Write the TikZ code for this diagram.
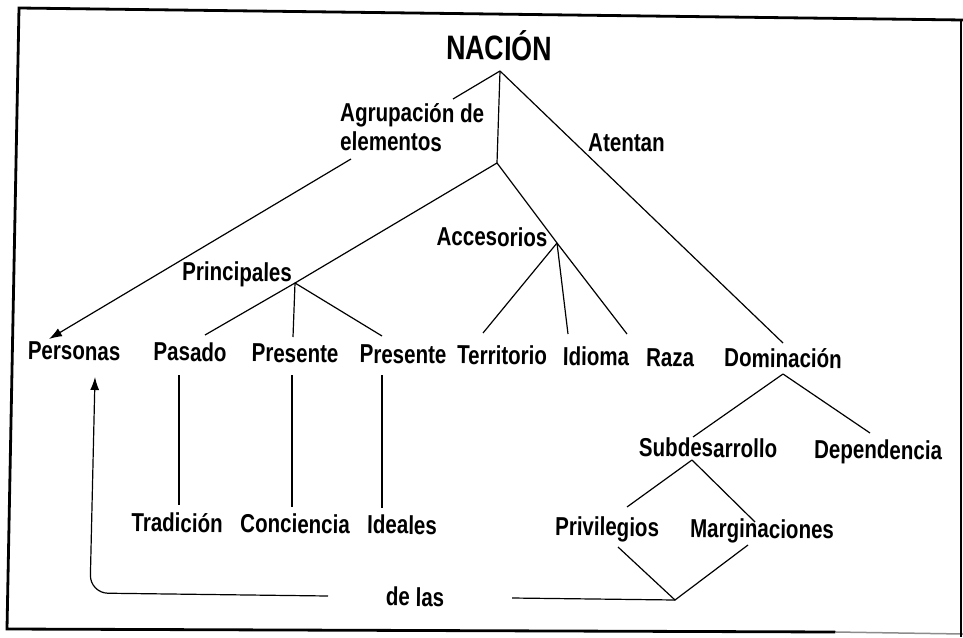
\documentclass[tikz,border=0pt]{standalone}
\usepackage{fontspec}
\setmainfont{Liberation Sans}[FakeStretch=0.79]
\usetikzlibrary{arrows.meta}
\begin{document}
\begin{tikzpicture}[x=1pt,y=-1pt,
  lbl/.style={font=\bfseries\fontsize{26}{30}\selectfont, inner sep=0pt, rotate=-0.7, anchor=base},
  title/.style={lbl, font=\bfseries\fontsize{34}{38}\selectfont},
  conn/.style={line width=1.2pt, black},
  arr/.style={conn, -{Latex[length=13pt,width=9pt,fill=black]}},
  framestyle/.style={line width=2.8pt, black, line cap=round}]
\useasboundingbox (0,0) rectangle (963,637);
\fill[white] (0,0) rectangle (963,637);

% frame
\draw[framestyle] (963,20) -- (19,8) -- (7,629) -- (835,632);
\draw[line width=1.5pt, black!45] (835,632) -- (963,634);
\draw[line width=2.2pt, black] (961,20) -- (961,637);

% texts
\node[title] (nacion) at (499,60) {NACIÓN};
\node[lbl, anchor=base west] (agr1) at (340,121) {Agrupación de};
\node[lbl, anchor=base west] (agr2) at (340,150) {elementos};
\node[lbl, anchor=base west] (atentan) at (588,151) {Atentan};
\node[lbl] (acces) at (492,246) {Accesorios};
\node[lbl] (princ) at (237,281) {Principales};

\node[lbl] (personas) at (74,360) {Personas};
\node[lbl] (pasado) at (190,361) {Pasado};
\node[lbl] (pres1) at (295,362.3) {Presente};
\node[lbl] (pres2) at (403,363.5) {Presente};
\node[lbl] (terr) at (502,364.5) {Territorio};
\node[lbl] (idioma) at (596,365.5) {Idioma};
\node[lbl] (raza) at (670,366.3) {Raza};
\node[lbl] (domin) at (783,367.5) {Dominación};

\node[lbl] (trad) at (177,532) {Tradición};
\node[lbl] (conc) at (295,533) {Conciencia};
\node[lbl] (ideal) at (402,534) {Ideales};

\node[lbl] (subd) at (708,457) {Subdesarrollo};
\node[lbl] (depen) at (878,459) {Dependencia};
\node[lbl] (priv) at (607,536) {Privilegios};
\node[lbl] (marg) at (762,538) {Marginaciones};
\node[lbl] (delas) at (415,606) {de las};

% junctions and line ends
\coordinate (apex) at (500,71);
\coordinate (agrtop) at (453,99);
\coordinate (agrbot) at (351,159);
\coordinate (persTip) at (49,339);
\coordinate (j1) at (497,163);
\coordinate (jp) at (295,283);
\coordinate (ja) at (557,243);
\coordinate (domTop) at (783,343);
\coordinate (pasTop) at (205,335);
\coordinate (p1Top) at (293,337);
\coordinate (p2Top) at (382,336);
\coordinate (terTop) at (483,333);
\coordinate (idTop) at (568,334);
\coordinate (idTopR) at (627,334);
\coordinate (pasBot) at (179,375);
\coordinate (tradTop) at (179,505);
\coordinate (p1Bot) at (292,375);
\coordinate (concTop) at (292,507);
\coordinate (p2Bot) at (382,375);
\coordinate (idealTop) at (382,508);
\coordinate (jd) at (783,374);
\coordinate (subTop) at (693,437);
\coordinate (depTop) at (870,433);
\coordinate (js) at (692,460);
\coordinate (privTop) at (627,507);
\coordinate (margTop) at (755,522);
\coordinate (privBot) at (618,547);
\coordinate (margBot) at (748,545);
\coordinate (jb) at (675,600);
\coordinate (delasR) at (512,598);
\coordinate (delasL) at (328,596);
\coordinate (corner) at (90,593);
\coordinate (persBot) at (95,377);

% connectors
\draw[conn] (apex) -- (agrtop);
\draw[arr] (agrbot) -- (persTip);
\draw[conn] (apex) -- (j1);
\draw[conn] (j1) -- (jp);
\draw[conn] (j1) -- (ja);
\draw[conn] (apex) -- (domTop);
\draw[conn] (jp) -- (pasTop);
\draw[conn] (jp) -- (p1Top);
\draw[conn] (jp) -- (p2Top);
\draw[conn] (ja) -- (terTop);
\draw[conn] (ja) -- (idTop);
\draw[conn] (ja) -- (idTopR);
\draw[conn] (pasBot) -- (tradTop);
\draw[conn] (p1Bot) -- (concTop);
\draw[conn] (p2Bot) -- (idealTop);
\draw[conn] (jd) -- (subTop);
\draw[conn] (jd) -- (depTop);
\draw[conn] (js) -- (privTop);
\draw[conn] (js) -- (margTop);
\draw[conn] (privBot) -- (jb) -- (margBot);
\draw[conn] (jb) -- (delasR);
\draw[arr, rounded corners=18pt] (delasL) -- (corner) -- (persBot);
\end{tikzpicture}
\end{document}
